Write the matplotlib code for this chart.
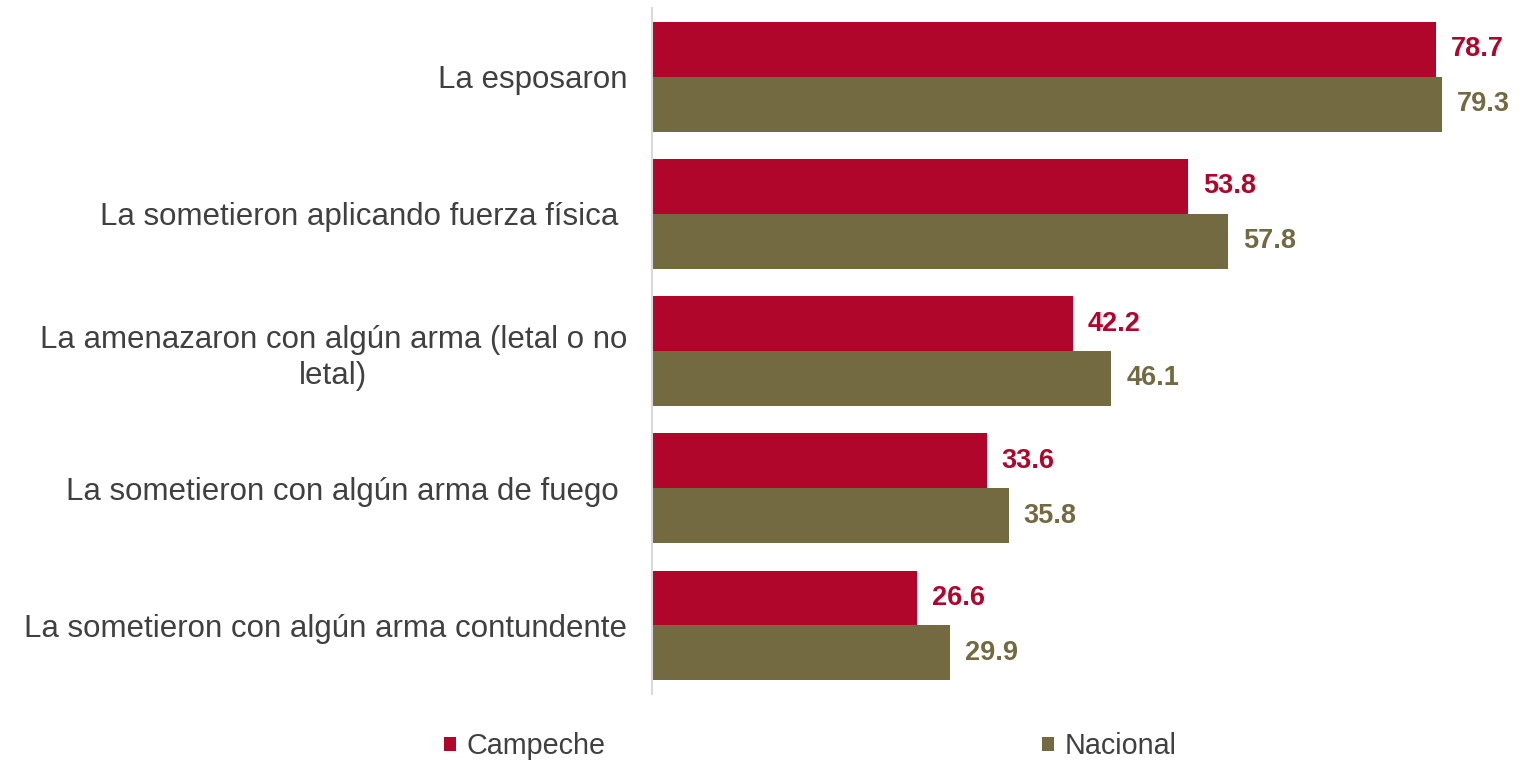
import numpy as np
import matplotlib.pyplot as plt
from matplotlib.patches import Patch

plt.rcParams['font.family'] = ['Liberation Sans', 'DejaVu Sans']

# Data
categories = [
    "La esposaron",
    "La sometieron aplicando fuerza física ",
    "La amenazaron con algún arma (letal o no\nletal)",
    "La sometieron con algún arma de fuego ",
    "La sometieron con algún arma contundente",
]
campeche = [78.7, 53.8, 42.2, 33.6, 26.6]
nacional = [79.3, 57.8, 46.1, 35.8, 29.9]
series_names = ["Campeche", "Nacional"]

red = "#B0062B"
olive = "#736A42"
text_gray = "#404040"

fig = plt.figure(figsize=(15.26, 7.63), dpi=100)
ax = fig.add_axes([0.4273, 0.0904, 0.5727, 0.899])

y = np.arange(len(categories))
h = 0.4
ax.barh(y - h / 2, campeche, height=h, color=red)
ax.barh(y + h / 2, nacional, height=h, color=olive)

for yi, v in zip(y, campeche):
    ax.text(v + 1.5, yi - h / 2, f"{v:.1f}", va="center", ha="left",
            fontsize=19.5, fontweight="bold", color=red)
for yi, v in zip(y, nacional):
    ax.text(v + 1.5, yi + h / 2, f"{v:.1f}", va="center", ha="left",
            fontsize=19.5, fontweight="bold", color=olive)

ax.set_xlim(0, 87.7)
ax.set_ylim(len(categories) - 0.5, -0.5)
ax.set_xticks([])
ax.set_yticks(y)
ax.set_yticklabels(categories, fontsize=22.5, color=text_gray)
for lbl in ax.get_yticklabels():
    lbl.set_multialignment("center")
    lbl.set_linespacing(1.27)
ax.tick_params(axis="y", length=0, pad=18)

for s in ["top", "right", "bottom"]:
    ax.spines[s].set_visible(False)
ax.spines["left"].set_color("#d9d9d9")
ax.spines["left"].set_linewidth(1.5)

handles = [Patch(facecolor=red), Patch(facecolor=olive)]
fig.legend(handles, series_names, loc="center", bbox_to_anchor=(0.531, 0.022),
           ncol=2, frameon=False, fontsize=20.7, handlelength=0.42, handleheight=0.42,
           handletextpad=0.35, columnspacing=15.2, labelcolor=text_gray)

fig.savefig("out.png", dpi=100)
